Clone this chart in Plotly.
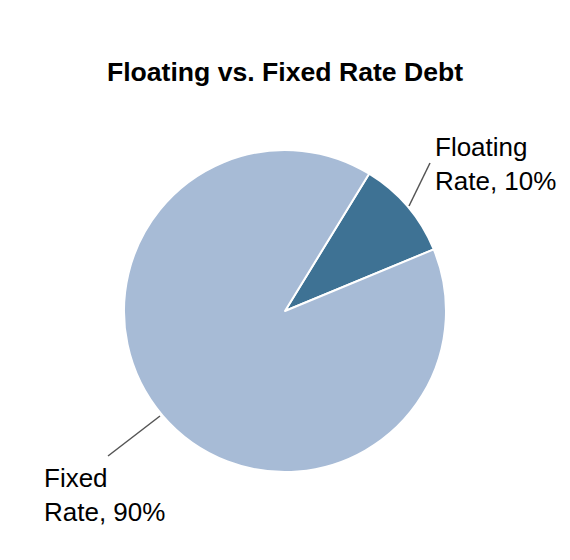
import plotly.graph_objects as go

# pie data
labels = ["Floating Rate", "Fixed Rate"]
values = [10, 90]
colors = ["#3E7294", "#A7BBD6"]

W, H = 570, 560
OFF = 8  # page body margin


def px(x):
    return (x - OFF) / W


def py(y):
    return 1 - (y - OFF) / H


fig = go.Figure()
fig.add_trace(
    go.Pie(
        labels=labels,
        values=values,
        marker=dict(colors=colors, line=dict(color="white", width=2)),
        sort=False,
        direction="clockwise",
        rotation=31.5,
        textinfo="none",
        hoverinfo="label+percent",
        showlegend=False,
        domain=dict(x=[px(124), px(446)], y=[py(472), py(150)]),
    )
)

# leader lines
fig.add_shape(type="line", xref="paper", yref="paper",
              x0=px(409), y0=py(206), x1=px(430), y1=py(163),
              line=dict(color="#555555", width=1.5))
fig.add_shape(type="line", xref="paper", yref="paper",
              x0=px(160), y0=py(416), x1=px(108), y1=py(456),
              line=dict(color="#555555", width=1.5))

# outside labels
lbl_font = dict(family="Liberation Sans, Arial", size=26, color="black")
fig.add_annotation(text="Floating<br>Rate, %d%%" % values[0], xref="paper", yref="paper",
                   x=px(433), y=py(130), xanchor="left", yanchor="top",
                   align="left", showarrow=False, font=lbl_font)
fig.add_annotation(text="Fixed<br>Rate, %d%%" % values[1], xref="paper", yref="paper",
                   x=px(42), y=py(461), xanchor="left", yanchor="top",
                   align="left", showarrow=False, font=lbl_font)

fig.update_layout(
    width=W,
    height=H,
    margin=dict(l=0, r=0, t=0, b=0),
    paper_bgcolor="white",
    plot_bgcolor="white",
    title=dict(text="<b>Floating vs. Fixed Rate Debt</b>", x=px(285), xanchor="center",
               y=py(72), yanchor="middle",
               font=dict(family="Liberation Sans, Arial", size=26.6, color="black")),
)

fig.write_html("out.html")
